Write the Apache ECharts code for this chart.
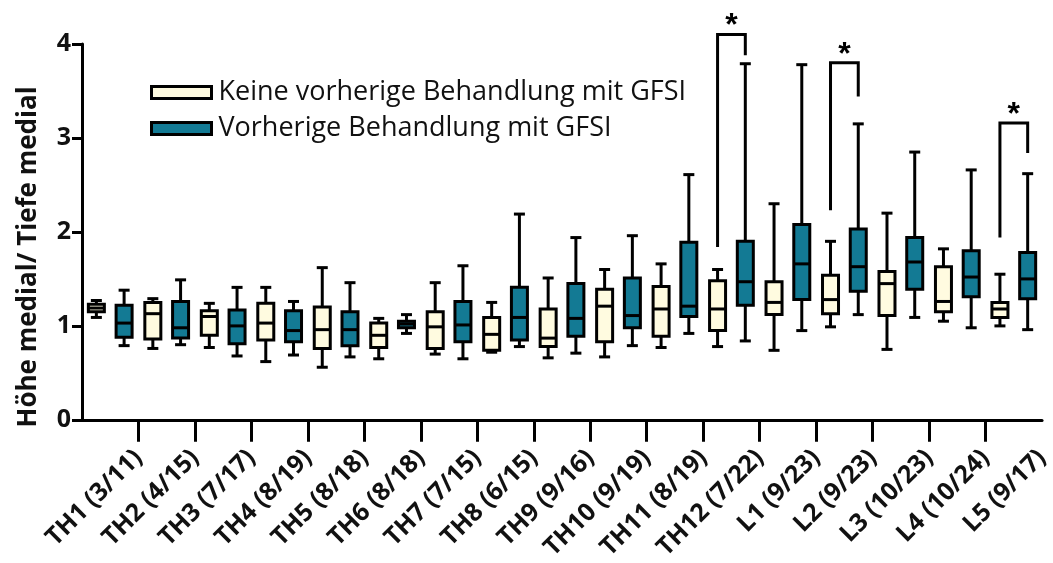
<!DOCTYPE html>
<html>
<head>
<meta charset="utf-8">
<script src="https://cdn.jsdelivr.net/npm/echarts@6/dist/echarts.min.js"></script>
<style>html,body{margin:0;padding:0;background:#fff}#c{width:1053px;height:563px}</style>
</head>
<body>
<div id="c"></div>
<script>
const categories = ['TH1 (3/11)', 'TH2 (4/15)', 'TH3 (7/17)', 'TH4 (8/19)', 'TH5 (8/18)', 'TH6 (8/18)', 'TH7 (7/15)', 'TH8 (6/15)', 'TH9 (9/16)', 'TH10 (9/19)', 'TH11 (8/19)', 'TH12 (7/22)', 'L1 (9/23)', 'L2 (9/23)', 'L3 (10/23)', 'L4 (10/24)', 'L5 (9/17)'];
const seriesNames = ['Keine vorherige Behandlung mit GFSI', 'Vorherige Behandlung mit GFSI'];
// [min, Q1, median, Q3, max]
const noPrior = [
  [1.09, 1.15, 1.19, 1.23, 1.27],
  [0.76, 0.86, 1.13, 1.25, 1.29],
  [0.77, 0.90, 1.10, 1.16, 1.24],
  [0.62, 0.85, 1.03, 1.24, 1.41],
  [0.56, 0.76, 0.96, 1.20, 1.62],
  [0.65, 0.77, 0.90, 1.03, 1.08],
  [0.70, 0.76, 0.99, 1.15, 1.46],
  [0.72, 0.74, 0.91, 1.09, 1.25],
  [0.66, 0.78, 0.87, 1.18, 1.51],
  [0.67, 0.83, 1.21, 1.39, 1.60],
  [0.77, 0.89, 1.18, 1.42, 1.66],
  [0.78, 0.95, 1.18, 1.48, 1.60],
  [0.74, 1.12, 1.25, 1.47, 2.30],
  [0.99, 1.13, 1.28, 1.54, 1.90],
  [0.75, 1.11, 1.45, 1.58, 2.20],
  [1.05, 1.15, 1.26, 1.63, 1.82],
  [1.00, 1.09, 1.18, 1.25, 1.55]
];
const prior = [
  [0.79, 0.88, 1.03, 1.22, 1.38],
  [0.80, 0.87, 0.98, 1.26, 1.49],
  [0.68, 0.81, 1.00, 1.17, 1.41],
  [0.69, 0.83, 0.95, 1.16, 1.26],
  [0.67, 0.79, 0.96, 1.15, 1.46],
  [0.92, 0.98, 1.02, 1.05, 1.12],
  [0.65, 0.83, 1.01, 1.26, 1.64],
  [0.78, 0.85, 1.09, 1.41, 2.19],
  [0.71, 0.89, 1.08, 1.45, 1.94],
  [0.79, 0.98, 1.11, 1.51, 1.96],
  [0.92, 1.10, 1.21, 1.89, 2.61],
  [0.84, 1.22, 1.47, 1.90, 3.79],
  [0.95, 1.28, 1.66, 2.08, 3.78],
  [1.12, 1.37, 1.63, 2.03, 3.15],
  [1.09, 1.39, 1.68, 1.94, 2.85],
  [0.98, 1.31, 1.52, 1.80, 2.66],
  [0.96, 1.29, 1.50, 1.78, 2.62]
];
// significance brackets
const sigCategory = [11, 13, 16];
const sigLeftBottom = [1.84, 2.23, 1.94];
const sigTop = [4.10, 3.80, 3.16];
const sigRightBottom = [3.88, 3.44, 2.84];
const sigLabel = ['*', '*', '*'];
const yTicks = [0, 1, 2, 3, 4];

const colNo = '#fffbe0';
const colPrior = '#137a94';
const fontBold = '"Open Sans", "Liberation Sans", sans-serif';
const OFFSET_FRAC = 14 / 57;   // box centre offset as a fraction of the category band
const BOX_W = 16;              // box path width (outer incl. stroke ≈ 19)
const CAP_W = 11;

const chart = echarts.init(document.getElementById('c'), null, {renderer: 'canvas'});
const tickLabels = [''].concat(categories);

function boxRenderer(side) {
  return function (params, api) {
    const c = api.value(0);
    const bw = api.size([1, 0])[0];
    const x = api.coord([c, 0])[0] + side * OFFSET_FRAC * bw;
    const yMin = api.coord([c, api.value(1)])[1];
    const yQ1 = api.coord([c, api.value(2)])[1];
    const yMed = api.coord([c, api.value(3)])[1];
    const yQ3 = api.coord([c, api.value(4)])[1];
    const yMax = api.coord([c, api.value(5)])[1];
    const fill = api.visual('color');
    const ln = {stroke: '#000', lineWidth: 3};
    return {
      type: 'group',
      children: [
        {type: 'line', shape: {x1: x, y1: yMax, x2: x, y2: yMin}, style: ln},
        {type: 'line', shape: {x1: x - CAP_W / 2, y1: yMax, x2: x + CAP_W / 2, y2: yMax}, style: ln},
        {type: 'line', shape: {x1: x - CAP_W / 2, y1: yMin, x2: x + CAP_W / 2, y2: yMin}, style: ln},
        {type: 'rect', shape: {x: x - BOX_W / 2, y: yQ3, width: BOX_W, height: yQ1 - yQ3},
          style: {fill: fill, stroke: '#000', lineWidth: 3}},
        {type: 'line', shape: {x1: x - BOX_W / 2, y1: yMed, x2: x + BOX_W / 2, y2: yMed}, style: ln}
      ]
    };
  };
}

chart.setOption({
  animation: false,
  backgroundColor: '#fff',
  grid: {left: 82, right: 2, top: 44, bottom: 143, containLabel: false},
  legend: {
    orient: 'vertical', left: 145, top: 74,
    itemWidth: 60, itemHeight: 12, itemGap: 9,
    icon: 'rect',
    textStyle: {fontFamily: '"Open Sans", sans-serif', fontSize: 27, color: '#111', lineHeight: 27, padding: [0, 0, 0, 2]},
    data: [
      {name: seriesNames[0], itemStyle: {color: colNo, borderColor: '#000', borderWidth: 3}},
      {name: seriesNames[1], itemStyle: {color: colPrior, borderColor: '#000', borderWidth: 3}}
    ]
  },
  xAxis: [{
    type: 'category', data: categories, position: 'bottom', boundaryGap: true,
    axisLine: {show: true, lineStyle: {color: '#000', width: 3}},
    axisTick: {show: false}, axisLabel: {show: false}, splitLine: {show: false}
  }, {
    type: 'category', data: tickLabels, position: 'bottom', boundaryGap: false,
    axisLine: {show: false},
    axisTick: {show: true, length: 22, lineStyle: {color: '#000', width: 3},
      interval: function (idx) { return idx > 0 && idx < categories.length; }},
    axisLabel: {interval: 0, rotate: 45, margin: 34, fontFamily: fontBold, fontWeight: 'bold', fontSize: 25, color: '#111'},
    splitLine: {show: false}
  }],
  yAxis: {
    type: 'value', min: 0, max: 4, interval: 1,
    name: 'Höhe medial/ Tiefe medial', nameLocation: 'middle', nameGap: 40,
    nameTextStyle: {fontFamily: fontBold, fontWeight: 'bold', fontSize: 26, color: '#111', padding: [0, 50, 0, 0]},
    axisLine: {show: true, lineStyle: {color: '#000', width: 3}},
    axisTick: {show: true, length: 10, lineStyle: {color: '#000', width: 3}},
    axisLabel: {fontFamily: fontBold, fontWeight: 'bold', fontSize: 25, color: '#111', margin: 11,
      formatter: function (v) { return yTicks.indexOf(v) >= 0 ? String(v) : ''; }},
    splitLine: {show: false}
  },
  series: [{
    name: seriesNames[0], type: 'custom', xAxisIndex: 0, yAxisIndex: 0, clip: false,
    itemStyle: {color: colNo, borderColor: '#000', borderWidth: 3},
    data: noPrior.map(function (d, i) { return [i].concat(d); }),
    encode: {x: 0, y: [1, 2, 3, 4, 5]},
    renderItem: boxRenderer(-1)
  }, {
    name: seriesNames[1], type: 'custom', xAxisIndex: 0, yAxisIndex: 0, clip: false,
    itemStyle: {color: colPrior, borderColor: '#000', borderWidth: 3},
    data: prior.map(function (d, i) { return [i].concat(d); }),
    encode: {x: 0, y: [1, 2, 3, 4, 5]},
    renderItem: boxRenderer(1)
  }, {
    type: 'custom', xAxisIndex: 0, yAxisIndex: 0, clip: false, silent: true,
    data: sigCategory.map(function (c, i) { return [c, sigLeftBottom[i], sigTop[i], sigRightBottom[i], i]; }),
    encode: {x: 0, y: [1, 2, 3]},
    renderItem: function (params, api) {
      const c = api.value(0);
      const bw = api.size([1, 0])[0];
      const off = OFFSET_FRAC * bw;
      const pl = api.coord([c, api.value(1)]);
      const pt = api.coord([c, api.value(2)]);
      const pr = api.coord([c, api.value(3)]);
      const xl = pl[0] - off, xr = pl[0] + off;
      return {
        type: 'group',
        children: [{
          type: 'polyline',
          shape: {points: [[xl, pl[1]], [xl, pt[1]], [xr, pt[1]], [xr, pr[1]]]},
          style: {stroke: '#000', lineWidth: 3, fill: null}
        }, {
          type: 'text',
          style: {text: sigLabel[api.value(4)], x: pl[0], y: pt[1] + 8, align: 'center', verticalAlign: 'bottom',
            font: 'bold 32px "Liberation Sans", sans-serif', fill: '#000'}
        }]
      };
    }
  }]
});
</script>
</body>
</html>
